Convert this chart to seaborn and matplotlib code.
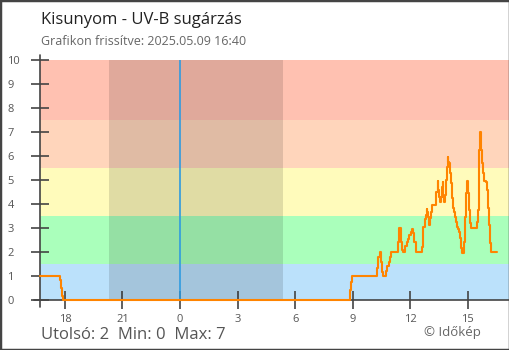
import matplotlib
matplotlib.use("Agg")
import matplotlib.pyplot as plt
from matplotlib.lines import Line2D
from matplotlib.patches import Rectangle
import numpy as np
import pandas as pd
import seaborn as sns

# UV-B readings: hours relative to midnight of the current day, index values
uv_hours = [-7.30, -6.26, -6.21, -6.15, -6.10,
            8.85, 8.90, 8.95, 10.25, 10.33, 10.40, 10.47, 10.53, 10.58,
            10.73, 10.81, 10.88, 10.94, 10.99, 11.34, 11.39, 11.44, 11.50,
            11.56, 11.62, 11.74, 11.81, 11.88, 11.95, 12.02, 12.09, 12.16,
            12.21, 12.28, 12.60, 12.65, 12.69, 12.76, 12.81, 12.86, 12.90,
            12.95, 13.00, 13.05, 13.10, 13.16, 13.37, 13.43, 13.47, 13.52,
            13.57, 13.62, 13.66, 13.69, 13.73, 13.78, 13.82, 13.87, 13.90,
            13.96, 13.99, 14.03, 14.08, 14.11, 14.16, 14.22, 14.27, 14.32,
            14.37, 14.42, 14.48, 14.55, 14.60, 14.65, 14.70, 14.82, 14.88,
            14.93, 14.96, 15.00, 15.03, 15.09, 15.14, 15.19, 15.47, 15.52,
            15.57, 15.61, 15.64, 15.68, 15.71, 15.76, 15.82, 15.87, 15.94,
            15.99, 16.04, 16.11, 16.16, 16.20, 16.54]
uv_values = [1.0, 0.83, 0.5, 0.17, 0.0,
             0.42, 0.77, 1.0, 1.32, 1.8, 2.0, 1.6, 1.18, 1.0,
             1.2, 1.4, 1.6, 1.8, 2.0, 2.4, 2.8, 3.0, 2.4,
             2.1, 2.0, 2.25, 2.4, 2.55, 2.7, 2.85, 2.95, 2.8,
             2.4, 2.0, 2.22, 2.71, 3.06, 3.36, 3.54, 3.78, 3.68,
             3.47, 3.13, 3.4, 3.68, 3.96, 4.51, 4.97, 4.58, 4.31,
             4.1, 4.31, 4.72, 4.93, 4.31, 4.1, 4.38, 5.0, 5.56,
             5.97, 5.76, 5.69, 5.28, 4.86, 4.24, 3.82, 3.68, 3.47,
             3.26, 3.06, 2.94, 2.85, 2.57, 2.15, 1.97, 2.43, 3.47,
             4.44, 4.97, 4.72, 4.44, 3.75, 3.19, 3.0, 3.26, 3.75,
             4.65, 6.25, 7.0, 6.74, 6.25, 5.69, 5.28, 4.97, 4.9,
             4.58, 3.82, 3.13, 2.36, 2.0, 2.0]

# UV risk bands (lower, upper) and their fills
band_edges = [(0.0, 1.5), (1.5, 3.5), (3.5, 5.5), (5.5, 7.5), (7.5, 10.0)]
band_colors = ["#bbe1fb", "#aaffbb", "#fffbbb", "#ffd5bb", "#ffc1b1"]

# Night (sunset to sunrise), hours relative to midnight
night_start, night_end = -3.70, 5.37

x_ticks = [-6, -3, 0, 3, 6, 9, 12, 15]
x_tick_labels = ["18", "21", "0", "3", "6", "9", "12", "15"]
y_ticks = list(range(0, 11))

last_value, min_value, max_value = 2, 0, 7

sns.set_theme(style="white")
plt.rcParams["font.family"] = ["Open Sans", "DejaVu Sans"]

W, H = 510, 350
fig = plt.figure(figsize=(W / 100, H / 100), dpi=100)
ax = fig.add_axes([40 / W, 50 / H, 469 / W, 240 / H])

for (lo, hi), c in zip(band_edges, band_colors):
    ax.axhspan(lo, hi, color=c, lw=0, zorder=0)
ax.axvspan(night_start, night_end, color="black", alpha=0.12, lw=0, zorder=1)
ax.axvline(0, color="#2f9be0", lw=1.2, zorder=2)

df = pd.DataFrame({"hour": uv_hours, "uv": uv_values})
sns.lineplot(data=df, x="hour", y="uv", ax=ax, color="#ff8400", lw=1.5,
             drawstyle="steps-post", sort=False, estimator=None,
             zorder=5, clip_on=False)

ax.set_xlim(-7.30, 17.15)
ax.set_ylim(0, 10)
ax.set_xticks(x_ticks)
ax.set_xticklabels(x_tick_labels)
ax.set_yticks(y_ticks)
ax.set_xlabel("")
ax.set_ylabel("")
for s in ax.spines.values():
    s.set_visible(False)

axis_col = "#444444"
ax.tick_params(bottom=True, left=True, direction="inout", length=13,
               width=1.2, color=axis_col, labelcolor="#555555", labelsize=8)
ax.tick_params(axis="y", pad=17)
for lab in ax.get_yticklabels():
    lab.set_ha("left")

# axis lines extending a little past the plot area
ax.add_line(Line2D([0, 0], [-7 / 240, 1 + 5 / 240], transform=ax.transAxes,
                   color=axis_col, lw=1.2, clip_on=False, zorder=4))
ax.add_line(Line2D([-6 / 469, 1], [0, 0], transform=ax.transAxes,
                   color=axis_col, lw=1.2, clip_on=False, zorder=4))

fig.text(41 / W, 1 - 24 / H, "Kisunyom - UV-B sugárzás", fontsize=12,
         color="#222222", va="baseline", ha="left")
fig.text(41 / W, 1 - 45 / H, "Grafikon frissítve: 2025.05.09 16:40",
         fontsize=9, color="#666666", va="baseline", ha="left")
fig.text(41 / W, 1 - 339 / H,
         f"Utolsó: {last_value}  Min: {min_value}  Max: {max_value}",
         fontsize=12, color="#555555", va="baseline", ha="left")
fig.text(481 / W, 1 - 336 / H, "© Időkép", fontsize=9.5, color="#666666",
         va="baseline", ha="right")

fig.patches.append(Rectangle((0, 0), 1, 1, transform=fig.transFigure,
                             fill=False, ec="#444444", lw=2.5, zorder=10))

fig.savefig("out.png", dpi=100)
